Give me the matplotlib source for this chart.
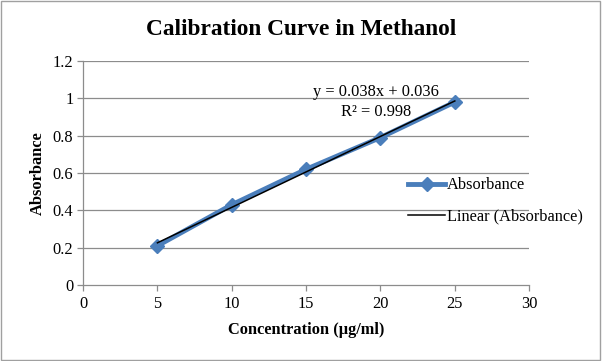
import numpy as np
import matplotlib
matplotlib.use("Agg")
import matplotlib.pyplot as plt
from matplotlib.patches import Rectangle

# calibration data
conc = [5, 10, 15, 20, 25]
absorbance = [0.21, 0.43, 0.62, 0.79, 0.98]
yticks = [0, 0.2, 0.4, 0.6, 0.8, 1, 1.2]
ytick_labels = ["0", "0.2", "0.4", "0.6", "0.8", "1", "1.2"]
xticks = [0, 5, 10, 15, 20, 25, 30]

plt.rcParams["font.family"] = ["Liberation Serif", "DejaVu Serif"]
fs = 11.8

fig = plt.figure(figsize=(6.02, 3.61), dpi=100)
fig.patches.append(Rectangle((0.002, 0.003), 0.995, 0.994, transform=fig.transFigure,
                             fill=False, edgecolor="#a0a0a0", linewidth=1))
ax = fig.add_axes([0.138, 0.2105, 0.741, 0.6205])

grid_c = "#8c8c8c"
for y in yticks[1:]:
    ax.axhline(y, color=grid_c, linewidth=0.9, zorder=1)

ax.plot(conc, absorbance, color="#4a7ebb", linewidth=3.5, marker="D", markersize=7,
        label="Absorbance", zorder=3)

slope, intercept = np.polyfit(conc, absorbance, 1)
fit_x = np.array([conc[0], conc[-1]])
ax.plot(fit_x, slope * fit_x + intercept, color="black", linewidth=1.1,
        label="Linear (Absorbance)", zorder=4)

ax.text(19.7, 1.034, "y = %.3fx + %.3f" % (slope, intercept), ha="center", va="center",
        fontsize=fs)
ax.text(19.7, 0.927, "R\u00b2 = 0.998", ha="center", va="center", fontsize=fs)

ax.set_xlim(0, 30)
ax.set_ylim(0, 1.2)
ax.set_xticks(xticks)
ax.set_yticks(yticks)
ax.set_yticklabels(ytick_labels)
ax.tick_params(axis="both", labelsize=fs, color=grid_c, length=4, width=0.9)
ax.tick_params(axis="y", pad=3)
ax.tick_params(axis="x", pad=4)
for side in ["top", "right"]:
    ax.spines[side].set_visible(False)
for side in ["left", "bottom"]:
    ax.spines[side].set_color(grid_c)
    ax.spines[side].set_linewidth(0.9)

ax.set_xlabel("Concentration (\u00b5g/ml)", fontsize=fs, fontweight="bold", labelpad=7)
ax.set_ylabel("Absorbance", fontsize=fs, fontweight="bold", labelpad=5)
fig.text(0.5, 0.917, "Calibration Curve in Methanol", fontsize=16.8, fontweight="bold",
         ha="center", va="center")

fig.legend(loc="center left", bbox_to_anchor=(0.678, 0.443), frameon=False, fontsize=fs,
           handlelength=2.26, handletextpad=0.12, labelspacing=0.95, borderaxespad=0,
           borderpad=0)

fig.savefig("out.png", dpi=100)
